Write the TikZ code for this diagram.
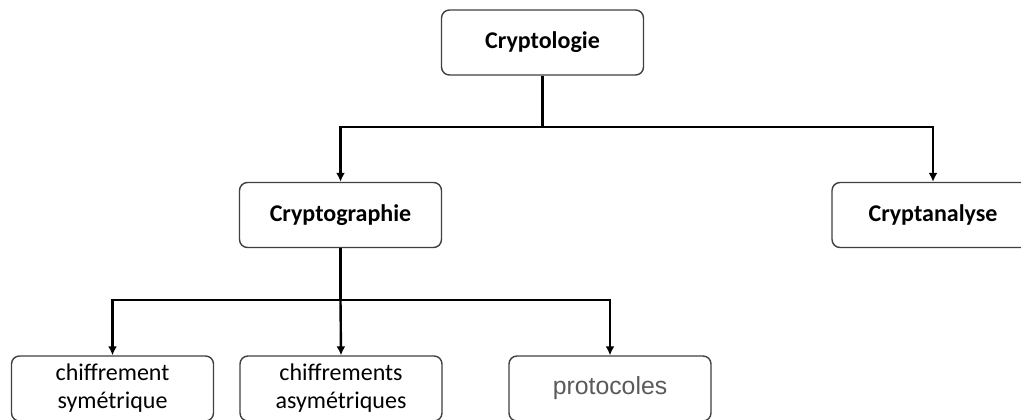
\documentclass[tikz,border=0pt]{standalone}
\usepackage{fontspec}
\setmainfont{Carlito}
\newfontfamily\arialFont{Liberation Sans}
\usepackage{tikz}
\usetikzlibrary{
    arrows.meta, positioning, calc
}
\definecolor{boxGray}{HTML}{404040}
\definecolor{textGray}{HTML}{5A5A5A}
\tikzset{
    % Boxes
    treeBox/.style={
        rectangle, rounded corners=4pt, draw=boxGray, line width=0.7pt, fill=white,
        minimum width=101pt, minimum height=32.5pt, align=center, inner sep=2pt
    },
    headBox/.style={treeBox, font=\fontsize{12}{14}\selectfont\bfseries},
    leafBox/.style={treeBox, font=\fontsize{12}{14}\selectfont},
    % Connectors
    treeLine/.style={line width=1.2pt, draw=black},
    treeArrow/.style={->, >={Latex[width=4.5pt,length=4.5pt]}, treeLine}
}

\begin{document}
\begin{tikzpicture}[x=0.5pt, y=0.5pt]
        \useasboundingbox (0,0) rectangle (1021,419);

        % Level 1
        \node[headBox] (cryptologie) at (542.5, 376.5) {Cryptologie};

        % Level 2
        \node[headBox] (cryptographie) at (340.5, 204) {Cryptographie};
        \node[headBox] (cryptanalyse) at (933, 204) {Cryptanalyse};

        % Level 3
        \node[leafBox] (symetrique) at (112.5, 30.5) {chiffrement\\sym\'etrique};
        \node[leafBox] (asymetrique) at (341, 30.5) {chiffrements\\asym\'etriques};
        \node[leafBox, text=textGray, font=\arialFont\fontsize{12.4}{14}\selectfont] (protocoles) at (610, 30.5) {protocoles};

        % Bus 1
        \coordinate (busOne) at (542.5, 292);
        \draw[treeLine] (cryptologie.south) -- (busOne);
        \draw[treeArrow] (busOne) -| (cryptographie.north);
        \draw[treeArrow] (busOne) -| (cryptanalyse.north);

        % Bus 2
        \coordinate (busTwo) at (340.5, 119);
        \draw[treeLine] (cryptographie.south) -- (busTwo);
        \draw[treeArrow] (busTwo) -| (symetrique.north);
        \draw[treeArrow] (busTwo) -- (asymetrique.north);
        \draw[treeArrow] (busTwo) -| (protocoles.north);
    \end{tikzpicture}
\end{document}
